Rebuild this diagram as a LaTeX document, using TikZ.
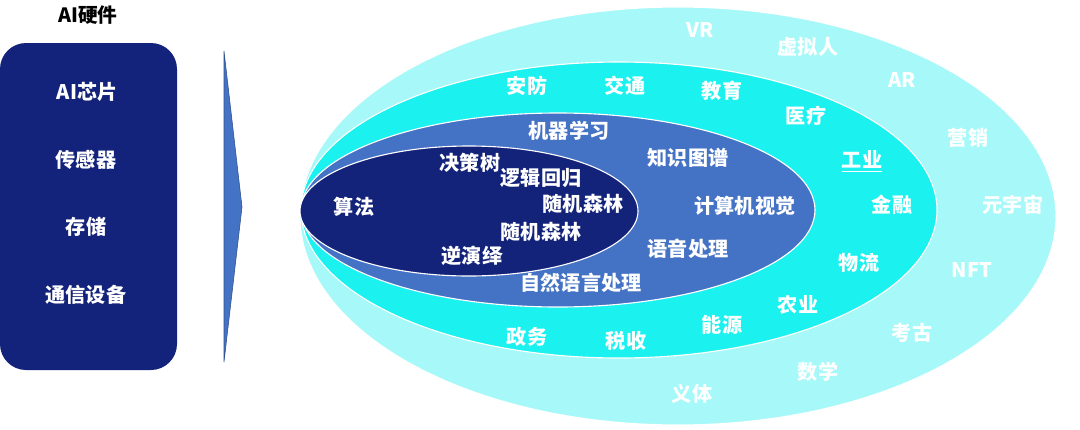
\documentclass[tikz,border=0pt]{standalone}
\usepackage{fontspec}
\setmainfont{Noto Sans CJK SC}
\usetikzlibrary{shapes.geometric}
\definecolor{navy}{HTML}{13227A}
\definecolor{ringA}{HTML}{A6F9F8}
\definecolor{ringB}{HTML}{1BF1EF}
\definecolor{ringC}{HTML}{4472C4}
\definecolor{ringD}{HTML}{14237A}
\tikzset{
  lbl/.style={text=white,font=\fontsize{14.3}{16}\selectfont\bfseries,inner sep=0pt},
  ring/.style={draw=white,line width=0.8pt},
}
\begin{document}
\begin{tikzpicture}[x=0.025cm,y=-0.025cm]
\useasboundingbox (0,0) rectangle (1080,429);
% left box
\node[text=black,font=\fontsize{14}{16}\selectfont\bfseries,inner sep=0pt] (title) at (88,15) {AI硬件};
\fill[navy,rounded corners=0.65cm] (0,43) rectangle (177,370);
\node[lbl] (h1) at (87,92) {AI芯片};
\node[lbl] (h2) at (86,160) {传感器};
\node[lbl] (h3) at (86,227) {存储};
\node[lbl] (h4) at (86,295) {通信设备};
% arrow
\filldraw[fill=ringC,draw=ringC!70!black,line width=0.4pt] (224,51) -- (242,207) -- (224,362) -- cycle;
% rings
\filldraw[ring,fill=ringA] (678,216) ellipse (378 and 209);
\filldraw[ring,fill=ringB] (619,210) ellipse (318 and 148);
\filldraw[ring,fill=ringC] (558,210) ellipse (257 and 97);
\filldraw[ring,fill=ringD] (469,211) ellipse (169 and 65);
% outer ring labels
\node[lbl] (o1) at (700,30) {VR};
\node[lbl] (o2) at (808,47) {虚拟人};
\node[lbl] (o3) at (902,80) {AR};
\node[lbl] (o4) at (968,138) {营销};
\node[lbl] (o5) at (1013,205) {元宇宙};
\node[lbl] (o6) at (972,270) {NFT};
\node[lbl] (o7) at (912,333) {考古};
\node[lbl] (o8) at (818,372) {数学};
\node[lbl] (o9) at (692,394) {义体};
% second ring labels
\node[lbl] (s1) at (527,86) {安防};
\node[lbl] (s2) at (625,86) {交通};
\node[lbl] (s3) at (722,91) {教育};
\node[lbl] (s4) at (806,116) {医疗};
\node[lbl] (s5) at (862,160) {工业};
\draw[white,line width=0.8pt] ([yshift=-1.5pt]s5.south west) -- ([yshift=-1.5pt]s5.south east);
\node[lbl] (s6) at (892,205) {金融};
\node[lbl] (s7) at (859,263) {物流};
\node[lbl] (s8) at (798,305) {农业};
\node[lbl] (s9) at (722,325) {能源};
\node[lbl] (s10) at (626,341) {税收};
\node[lbl] (s11) at (527,337) {政务};
% third ring labels
\node[lbl] (t1) at (569,131) {机器学习};
\node[lbl] (t2) at (688,158) {知识图谱};
\node[lbl] (t3) at (745,206) {计算机视觉};
\node[lbl] (t4) at (688,249) {语音处理};
\node[lbl] (t5) at (581,283) {自然语言处理};
% inner labels
\node[lbl] (i1) at (354,207) {算法};
\node[lbl] (i2) at (470,163) {决策树};
\node[lbl] (i3) at (541,178) {逻辑回归};
\node[lbl] (i4) at (583,204) {随机森林};
\node[lbl] (i5) at (541,232) {随机森林};
\node[lbl] (i6) at (472,256) {逆演绎};
\end{tikzpicture}
\end{document}
